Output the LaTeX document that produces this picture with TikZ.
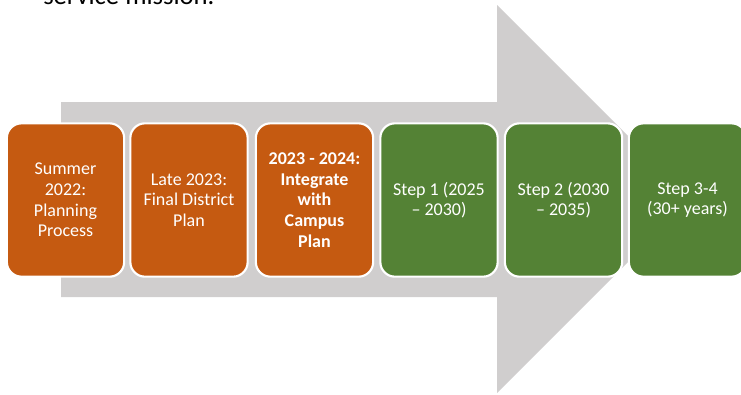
\documentclass[tikz,border=0pt]{standalone}
\usepackage{fontspec}
\setmainfont{Carlito}
\definecolor{orng}{HTML}{C55A11}
\definecolor{grn}{HTML}{548235}
\definecolor{arrowgray}{HTML}{D0CECE}
\begin{document}
\begin{tikzpicture}[x=0.75pt,y=-0.75pt,
  stagebox/.style={rectangle, rounded corners=11pt, draw=white, line width=1.6pt,
    minimum width=88pt, minimum height=115pt, align=center, text=white,
    font=\fontsize{13.5}{15.5}\selectfont, inner sep=2pt},
  orangebox/.style={stagebox, fill=orng},
  greenbox/.style={stagebox, fill=grn}]
\useasboundingbox (0,0) rectangle (741,394);
\clip (0,0) rectangle (741,394);
\node[anchor=base west, inner sep=0pt, font=\fontsize{20}{24}\selectfont, text=black] (title) at (43,4) {service mission.};
\fill[arrowgray] (61,102) -- (497,102) -- (497,5) -- (691,199) -- (497,393) -- (497,297) -- (61,297) -- cycle;
\node[orangebox] (b1) at (65.5,200) {Summer\\2022:\\Planning\\Process};
\node[orangebox] (b2) at (189,200) {Late 2023:\\Final District\\Plan};
\node[orangebox, font=\fontsize{13.5}{15.5}\selectfont\bfseries] (b3) at (314.5,200) {2023 - 2024:\\Integrate\\with\\Campus\\Plan};
\node[greenbox] (b4) at (439,200) {Step 1 (2025\\– 2030)};
\node[greenbox] (b5) at (563.5,200) {Step 2 (2030\\– 2035)};
\node[greenbox] (b6) at (687.5,200) {Step 3-4\\(30+ years)};
\end{tikzpicture}
\end{document}
